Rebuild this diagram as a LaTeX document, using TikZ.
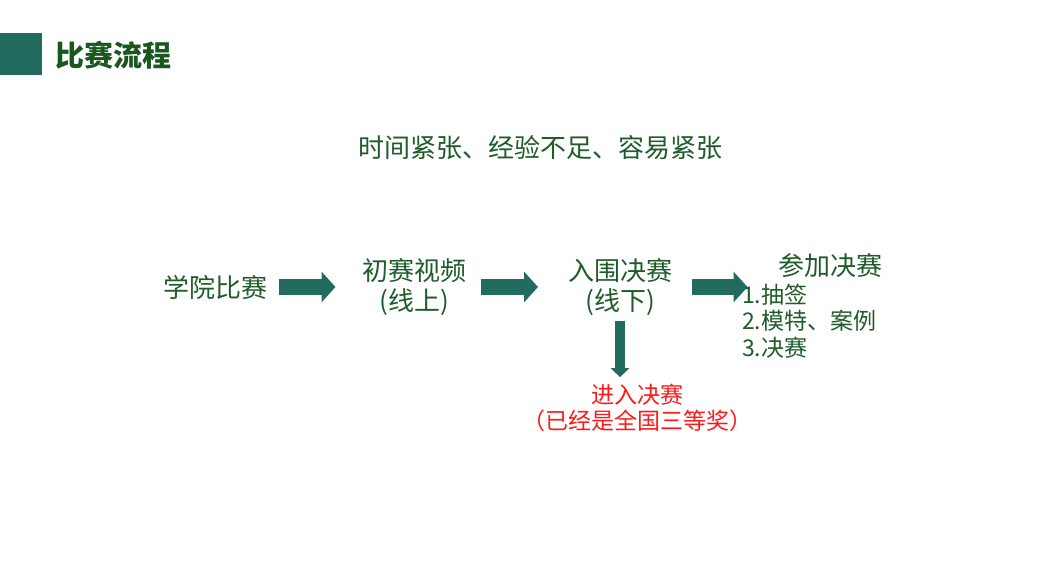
\documentclass[tikz,border=0pt]{standalone}
\usepackage{fontspec}
\setmainfont{Noto Sans CJK SC}
\usetikzlibrary{arrows.meta}
\definecolor{teal}{HTML}{226B5F}
\definecolor{txtgreen}{HTML}{1F5C2B}
\definecolor{ttlgreen}{HTML}{1A571E}
\definecolor{prizered}{HTML}{FF1A1A}
\tikzset{
  bigarrow/.style={draw=teal, line width=16pt, -{Triangle[length=14pt,width=30pt]}},
  downarrow/.style={draw=teal, line width=10pt, -{Triangle[length=9pt,width=18pt]}},
}

\begin{document}
\begin{tikzpicture}[x=1pt, y=-1pt, every node/.style={inner sep=0pt, outer sep=0pt, text=txtgreen, font=\fontsize{26}{30}\selectfont}]
\useasboundingbox[fill=white] (0,0) rectangle (1039,575);

% title bar
\fill[teal] (0,33) rectangle (42,75);
\node[anchor=west, text=ttlgreen, font=\fontsize{29}{32}\selectfont\bfseries] (title) at (55,55) {比赛流程};

\node (note) at (540.5,148) {时间紧张、经验不足、容易紧张};

% steps
\node (school) at (215.5,287) {学院比赛};
\node[align=center] (prelim) at (414.5,287) {初赛视频\\(线上)};
\node[align=center] (semi) at (620,287) {入围决赛\\(线下)};
\node (final) at (830.5,266) {参加决赛};
\node[align=center, text=prizered, font=\fontsize{23}{26}\selectfont] (prize) at (637,408) {进入决赛\\（已经是全国三等奖）};

% arrows
\draw[bigarrow] ([xshift=11pt]school.east) -- ([xshift=-27pt]prelim.west);
\draw[bigarrow] ([xshift=14pt]prelim.east) -- ([xshift=-30pt]semi.west);
\draw[bigarrow] ([xshift=20pt]semi.east) -- ([xshift=-31pt,yshift=-21pt]final.west);
\draw[downarrow] ([yshift=-5pt]semi.south) -- ([xshift=-17pt,yshift=7pt]prize.north);

\node[anchor=north west, align=left, font=\fontsize{23}{26.5}\selectfont] (steps) at (742,284) {1.抽签\\2.模特、案例\\3.决赛};
\end{tikzpicture}
\end{document}
